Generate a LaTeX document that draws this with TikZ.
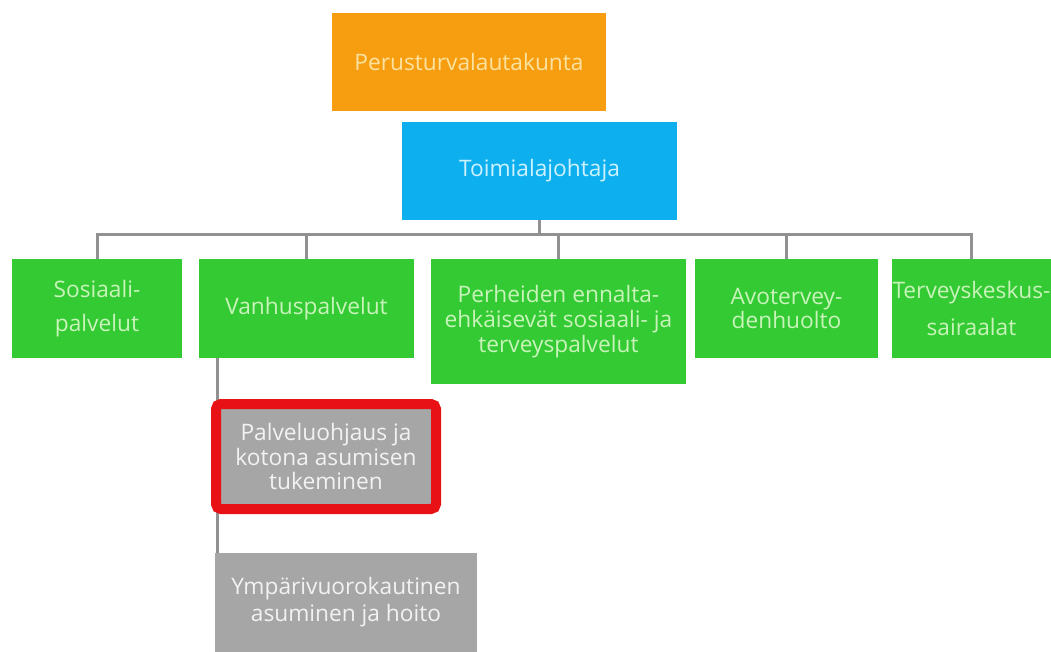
\documentclass[tikz,border=0pt]{standalone}
\usepackage{fontspec}
\setmainfont{Open Sans}
\usepackage{tikz}
\usetikzlibrary{backgrounds}

\definecolor{oranssi}{RGB}{246,158,16}
\definecolor{sininen}{RGB}{14,175,238}
\definecolor{vihrea}{RGB}{52,202,52}
\definecolor{harmaa}{RGB}{166,166,166}
\definecolor{punainen}{RGB}{232,18,22}
\definecolor{viiva}{RGB}{145,145,145}

\tikzset{
    laatikko/.style={rectangle, inner sep=0pt, align=center,
        font=\fontsize{22.8}{25}\selectfont},
    lautakunta/.style={laatikko, fill=oranssi, text={rgb,255:red,252;green,226;blue,160}},
    johtaja/.style={laatikko, fill=sininen, text={rgb,255:red,205;green,242;blue,255}},
    palvelu/.style={laatikko, fill=vihrea, text={rgb,255:red,200;green,244;blue,186},
        minimum height=99bp},
    yksikko/.style={laatikko, fill=harmaa, text={rgb,255:red,242;green,242;blue,242}},
    valittu/.style={yksikko, draw=punainen, line width=10bp, rounded corners=5bp},
    yhteys/.style={draw=viiva, line width=3bp}
}

\begin{document}
\begin{tikzpicture}[x=1bp, y=-1bp]
    % Page
    \useasboundingbox (0,0) rectangle (1051,652);
    % Board and director
    \node[lautakunta, minimum width=274bp, minimum height=98bp] (lautakunta) at (469,62) {Perusturvalautakunta};
    \node[johtaja, minimum width=275bp, minimum height=98bp] (johtaja) at (539.5,171) {Toimialajohtaja};
    % Service areas
    \node[palvelu, minimum width=170bp] (sosiaali) at (97,308.5) {Sosiaali-\\[9bp]palvelut};
    \node[palvelu, minimum width=215bp] (vanhus) at (306.5,308.5) {Vanhuspalvelut};
    \node[palvelu, minimum width=255bp, minimum height=125bp] (perheet) at (558.5,321.5) {Perheiden ennalta-\\ehkäisevät sosiaali- ja\\terveyspalvelut};
    \node[palvelu, minimum width=183bp] (avo) at (786.5,308.5) {Avotervey-\\denhuolto};
    \node[palvelu, minimum width=159bp] (terveys) at (971.5,308.5) {Terveyskeskus-\\[12bp]sairaalat};
    % Units of elderly care
    \node[valittu, minimum width=220bp, minimum height=105bp] (ohjaus) at (326,456.5) {Palveluohjaus ja\\kotona asumisen\\tukeminen};
    \node[yksikko, minimum width=262bp, minimum height=99bp] (ympari) at (346,602.5) {Ympärivuorokautinen\\[2bp]asuminen ja hoito};
    % Connectors
    \begin{pgfonlayer}{background}
        \coordinate (haara) at (539.5,234);
        \draw[yhteys] (johtaja.south) -- (haara);
        \draw[yhteys] (sosiaali.north) |- (haara) -| (terveys.north);
        \draw[yhteys] (vanhus.north) -- (vanhus.north |- haara);
        \draw[yhteys] (perheet.north) -- (perheet.north |- haara);
        \draw[yhteys] (avo.north) -- (avo.north |- haara);
        \draw[yhteys] ([xshift=19bp]vanhus.south west) -- ([xshift=19bp]vanhus.south west |- ympari.north);
    \end{pgfonlayer}
\end{tikzpicture}
\end{document}
